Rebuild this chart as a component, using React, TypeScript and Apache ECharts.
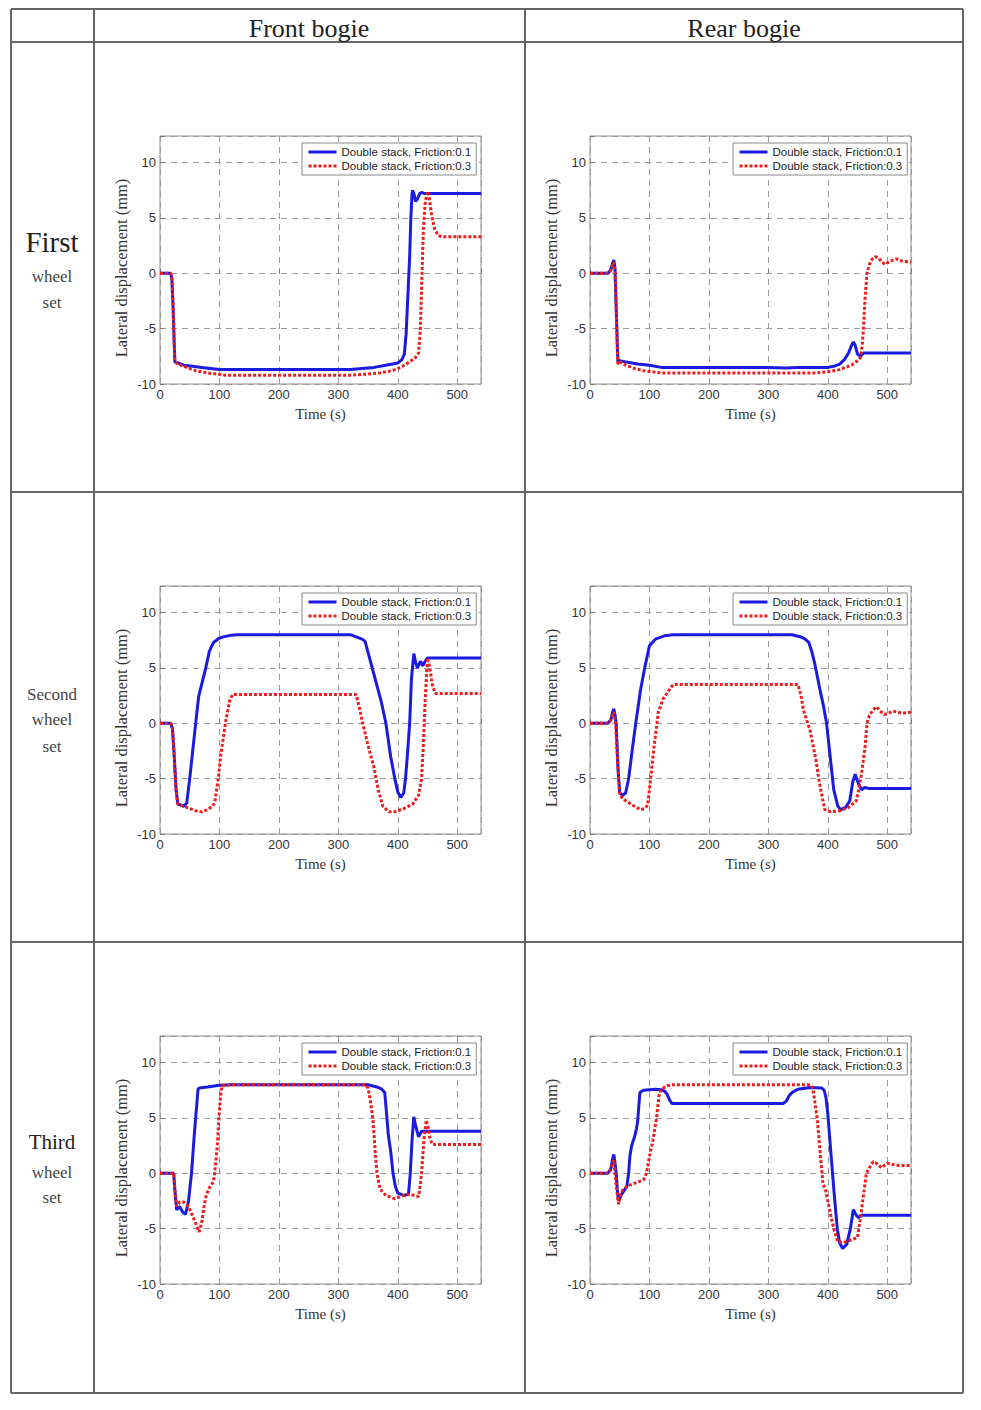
import React, { useEffect, useRef } from "react";
import * as echarts from "echarts";

const NAME_A = "Double stack, Friction:0.1";
const NAME_B = "Double stack, Friction:0.3";
const colHeaders = ["Front bogie", "Rear bogie"];
const xTickLabels = [0, 100, 200, 300, 400, 500];
const yTickLabels = [-10, -5, 0, 5, 10];

// First wheel set, front bogie
const firstFrontA = [[0,0],[18,0],[20,-0.5],[22,-3],[24,-6.5],[25,-8],[30,-8.1],[40,-8.3],[55,-8.4],[70,-8.5],[100,-8.7],[150,-8.7],[200,-8.7],[250,-8.7],[320,-8.7],[340,-8.6],[360,-8.5],[380,-8.3],[400,-8.1],[407,-7.8],[411,-7.3],[414,-5.5],[417,-2],[420,1.5],[422,5],[424,7.2],[425,7.5],[427,7.2],[430,6.5],[433,6.7],[437,7.2],[440,7.3],[445,7.2],[540,7.2]];
const firstFrontB = [[0,0],[18,0],[20,-0.5],[22,-3],[24,-6.5],[25,-8],[30,-8.2],[40,-8.4],[60,-8.8],[80,-9.0],[110,-9.2],[200,-9.2],[320,-9.2],[350,-9.1],[370,-9.0],[390,-8.8],[405,-8.5],[420,-8.0],[430,-7.6],[435,-7.2],[438,-5],[440,-1.5],[443,3.9],[446,6.3],[450,7.4],[453,6.8],[457,5.2],[462,4.0],[468,3.4],[475,3.3],[540,3.3]];
// First wheel set, rear bogie
const firstRearA = [[0,0],[30,0],[35,0.3],[38,0.9],[40,1.2],[42,0.5],[44,-3],[46,-6.5],[47,-8],[50,-7.9],[60,-8.0],[80,-8.2],[100,-8.3],[120,-8.5],[200,-8.5],[300,-8.5],[330,-8.55],[350,-8.5],[400,-8.5],[410,-8.4],[420,-8.2],[428,-7.8],[435,-7.2],[440,-6.5],[443,-6.2],[446,-6.5],[450,-7.3],[455,-7.5],[460,-7.2],[540,-7.2]];
const firstRearB = [[0,0],[30,0],[35,0.3],[38,0.8],[40,1.0],[42,0.3],[44,-3],[46,-7],[47,-8.2],[50,-8.0],[60,-8.3],[75,-8.6],[90,-8.8],[120,-9.0],[200,-9.0],[300,-9.0],[380,-9.0],[400,-8.9],[420,-8.7],[440,-8.3],[450,-7.9],[455,-7.6],[458,-6.5],[460,-5],[463,-2],[466,0],[470,0.8],[475,1.3],[480,1.5],[485,1.4],[490,1.1],[496,0.8],[505,1.1],[515,1.3],[525,1.1],[540,1.0]];
// Second wheel set, front bogie
const secondFrontA = [[0,0],[18,0],[21,-0.5],[24,-3],[27,-6],[30,-7.3],[35,-7.4],[40,-7.5],[45,-7.2],[50,-5],[56,-2],[60,0],[65,2.4],[70,3.5],[77,5],[83,6.5],[90,7.3],[100,7.7],[110,7.85],[120,7.95],[130,8.0],[320,8.0],[330,7.8],[340,7.6],[345,7.4],[352,6],[362,4],[372,2],[380,0],[388,-3],[395,-5],[400,-6.2],[405,-6.7],[410,-6.3],[413,-5],[416,-3],[420,0],[423,4],[427,6.3],[430,5.5],[433,5.0],[438,5.6],[442,5.2],[446,5.6],[450,5.9],[540,5.9]];
const secondFrontB = [[0,0],[18,0],[21,-0.5],[24,-3],[27,-6],[30,-7.3],[45,-7.6],[60,-7.9],[70,-8.0],[80,-7.8],[88,-7.5],[92,-7.2],[98,-5],[102,-3],[106,-1.5],[110,0],[117,2.0],[122,2.6],[200,2.6],[330,2.6],[335,1.5],[341,0],[350,-2],[360,-4],[367,-6],[375,-7.5],[385,-8.0],[395,-8.0],[410,-7.7],[425,-7.3],[435,-6.5],[440,-5],[443,-2],[446,2],[450,5.9],[454,5.0],[458,3.5],[463,2.7],[540,2.7]];
// Second wheel set, rear bogie
const secondRearA = [[0,0],[30,0],[35,0.3],[38,1.0],[40,1.3],[42,0.8],[44,0],[47,-4],[50,-6.3],[55,-6.5],[60,-6.3],[65,-5],[72,-2],[77,0],[85,3],[92,5],[100,7.0],[110,7.6],[125,7.9],[140,8.0],[340,8.0],[355,7.8],[362,7.6],[368,7.3],[373,6.5],[378,5.4],[387,3],[393,1.5],[398,0],[404,-3],[410,-6],[417,-7.5],[422,-7.8],[430,-7.6],[437,-7],[442,-5.3],[446,-4.6],[452,-5.5],[457,-6],[462,-5.8],[470,-5.9],[540,-5.9]];
const secondRearB = [[0,0],[30,0],[35,0.3],[38,0.8],[40,1.0],[43,0],[46,-3],[50,-6.5],[60,-7.0],[75,-7.5],[85,-7.8],[92,-7.7],[97,-7.4],[102,-5],[108,-2],[115,1],[123,2.2],[133,3.0],[140,3.5],[200,3.5],[350,3.5],[355,2.5],[359,1.2],[370,-0.6],[379,-3],[387,-5.7],[395,-7.8],[405,-8.0],[420,-7.9],[435,-7.6],[448,-7.0],[452,-6],[457,-4.5],[463,-2],[466,0],[470,0.7],[476,1.2],[482,1.5],[488,1.1],[495,0.8],[502,0.9],[510,1.1],[518,1.0],[525,0.9],[540,1.0]];
// Third wheel set, front bogie
const thirdFrontA = [[0,0],[23,0],[25,-1.5],[28,-3.3],[33,-3.0],[38,-3.5],[43,-3.7],[48,-2.5],[53,0],[57,3],[60,5],[64,7.6],[66,7.7],[80,7.8],[100,7.95],[120,8.0],[350,8.0],[365,7.8],[373,7.6],[378,7.3],[381,5.5],[384,3.5],[388,2.0],[392,0],[396,-1.2],[400,-1.8],[410,-2.0],[418,-1.9],[421,0],[424,3],[427,5.1],[430,4.3],[435,3.3],[440,3.8],[540,3.8]];
const thirdFrontB = [[0,0],[23,0],[25,-1.5],[28,-3.0],[33,-2.6],[40,-2.6],[48,-3.0],[56,-4],[62,-4.8],[66,-5.3],[70,-4.5],[74,-3],[78,-1.95],[84,-1.2],[90,-0.75],[94,1],[97,3],[99,5],[102,7],[104,7.9],[120,8.0],[345,8.0],[350,7.7],[354,6.5],[358,5],[362,2],[365,0],[370,-1.4],[380,-2.0],[395,-2.3],[410,-2.0],[420,-1.9],[435,-2.1],[438,-1],[440,0],[444,3],[448,4.8],[451,4.2],[454,3.2],[458,2.6],[540,2.6]];
// Third wheel set, rear bogie
const thirdRearA = [[0,0],[30,0],[35,0.4],[38,1.3],[40,1.7],[42,1],[44,0],[46,-1.5],[48,-2.5],[52,-2.0],[58,-1.5],[62,-1.2],[65,0],[67,1.5],[70,2.5],[75,3.3],[78,4],[80,4.6],[82,6],[84,7.3],[90,7.5],[100,7.55],[110,7.6],[120,7.55],[126,7.4],[130,7.1],[134,6.6],[138,6.3],[200,6.3],[325,6.3],[330,6.5],[335,7.0],[340,7.3],[350,7.6],[370,7.75],[390,7.7],[394,7.5],[397,6.8],[400,5.4],[405,2],[411,-2],[416,-5],[420,-6.3],[425,-6.8],[432,-6.4],[438,-5],[443,-3.3],[448,-3.8],[452,-4.0],[456,-3.8],[540,-3.8]];
const thirdRearB = [[0,0],[30,0],[35,0.3],[38,0.9],[40,1.2],[43,-0.5],[46,-2],[48,-2.8],[51,-2.0],[55,-1.5],[65,-1.1],[80,-0.8],[90,-0.6],[95,0],[100,1.5],[106,3],[112,5],[116,7],[120,7.6],[130,7.9],[140,8.0],[370,8.0],[375,7.7],[382,5],[387,2],[392,-1.0],[396,-1.4],[400,-2.5],[405,-3.8],[410,-5],[417,-6.2],[430,-6.2],[440,-6.0],[450,-5.8],[455,-4],[460,-2],[465,0],[470,0.5],[476,1.05],[482,0.9],[490,0.5],[500,0.9],[510,0.8],[520,0.7],[540,0.7]];

const panels = [
  [firstFrontA, firstFrontB],
  [firstRearA, firstRearB],
  [secondFrontA, secondFrontB],
  [secondRearA, secondRearB],
  [thirdFrontA, thirdFrontB],
  [thirdRearA, thirdRearB],
];

const BLUE = "#1a1ae0";
const RED = "#ee1c1c";
const SERIF = "'Liberation Serif', 'Times New Roman', serif";
const SANS = "'Liberation Sans', Arial, sans-serif";

export default function App() {
  const ref = useRef<HTMLDivElement>(null);
  useEffect(() => {
    if (!ref.current) return;
    const chart = echarts.init(ref.current, null, { renderer: "svg" });
    const colLeft = [160, 590];
    const rowTop = [136, 586, 1036];
    const grids: any[] = [];
    const xAxes: any[] = [];
    const yAxes: any[] = [];
    const series: any[] = [];
    const legends: any[] = [];
    panels.forEach((pair, i) => {
      const r = Math.floor(i / 2);
      const c = i % 2;
      grids.push({
        left: colLeft[c], top: rowTop[r], width: 321, height: 248,
        show: true, borderColor: "#8a8a8a", borderWidth: 1, backgroundColor: "#fff",
      });
      xAxes.push({
        type: "value", gridIndex: i, min: 0, max: 540, interval: 100,
        name: "Time (s)", nameLocation: "middle", nameGap: 22,
        nameTextStyle: { fontFamily: SERIF, fontSize: 15, color: "#333" },
        axisLine: { show: false },
        axisTick: { show: true, inside: true, length: 4, lineStyle: { color: "#777" } },
        axisLabel: {
          margin: 4, fontFamily: SANS, fontSize: 13, color: "#333",
          formatter: (v: number) => (xTickLabels.includes(v) ? String(v) : ""),
        },
        splitLine: { show: true, lineStyle: { color: "#9a9a9a", type: [6, 5], width: 1 } },
      });
      yAxes.push({
        type: "value", gridIndex: i, min: -10, max: 12.4, interval: 5,
        name: "Lateral displacement (mm)", nameLocation: "middle", nameGap: 30,
        nameTextStyle: { fontFamily: SERIF, fontSize: 16.5, color: "#333", padding: [0, 16, 0, 0] },
        axisLine: { show: false },
        axisTick: { show: true, inside: true, length: 4, lineStyle: { color: "#777" } },
        axisLabel: {
          margin: 4, fontFamily: SANS, fontSize: 13, color: "#333",
          formatter: (v: number) => (yTickLabels.includes(v) ? String(v) : ""),
        },
        splitLine: { show: true, lineStyle: { color: "#9a9a9a", type: [6, 5], width: 1 } },
      });
      series.push({
        type: "line", name: NAME_A, xAxisIndex: i, yAxisIndex: i, data: pair[0],
        showSymbol: false, symbol: "none", lineStyle: { color: BLUE, width: 3 }, itemStyle: { color: BLUE },
        z: 3,
      });
      series.push({
        type: "line", name: NAME_B, xAxisIndex: i, yAxisIndex: i, data: pair[1],
        showSymbol: false, symbol: "none", lineStyle: { color: RED, width: 3, type: [3, 2] }, itemStyle: { color: RED },
        z: 4,
      });
      legends.push({
        data: [NAME_A, NAME_B], orient: "vertical", left: 302 + c * 431, top: 143 + r * 450,
        itemWidth: 28, itemHeight: 12, itemGap: 2, padding: [3, 5, 3, 5],
        borderColor: "#888", borderWidth: 1, backgroundColor: "#fff", borderRadius: 0,
        selectedMode: false,
        itemStyle: { opacity: 0 },
        lineStyle: { width: 3 },
        textStyle: { fontFamily: SANS, fontSize: 11.5, color: "#222" },
      });
    });

    const lineStyle = { stroke: "#666", lineWidth: 2 };
    const hLines = [9, 42, 492, 942, 1393];
    const vLines = [11, 94, 525, 963];
    const graphics: any[] = [];
    hLines.forEach((y) =>
      graphics.push({ type: "line", shape: { x1: 11, y1: y, x2: 963, y2: y }, style: lineStyle, silent: true })
    );
    vLines.forEach((x) =>
      graphics.push({ type: "line", shape: { x1: x, y1: 9, x2: x, y2: 1393 }, style: lineStyle, silent: true })
    );
    const txt = (text: string, x: number, y: number, size: number, color: string) => ({
      type: "text", x, y, silent: true,
      style: { text, fontFamily: SERIF, fontSize: size, fill: color, textAlign: "center", textVerticalAlign: "middle" },
    });
    graphics.push(txt(colHeaders[0], 309, 28, 26, "#222"));
    graphics.push(txt(colHeaders[1], 744, 28, 26, "#222"));
    graphics.push(txt("First", 52, 242, 29, "#222"));
    graphics.push(txt("wheel", 52, 276, 17, "#444"));
    graphics.push(txt("set", 52, 302, 17, "#444"));
    graphics.push(txt("Second", 52, 694, 17, "#444"));
    graphics.push(txt("wheel", 52, 719, 17, "#444"));
    graphics.push(txt("set", 52, 746, 17, "#444"));
    graphics.push(txt("Third", 52, 1142, 21, "#222"));
    graphics.push(txt("wheel", 52, 1172, 17, "#444"));
    graphics.push(txt("set", 52, 1197, 17, "#444"));

    chart.setOption({
      animation: false,
      backgroundColor: "#fff",
      grid: grids,
      xAxis: xAxes,
      yAxis: yAxes,
      legend: legends,
      series,
      graphic: graphics,
    });
    return () => chart.dispose();
  }, []);
  return (
    <div
      ref={ref}
      style={{ position: "absolute", left: 0, top: 0, width: 981, height: 1410 }}
    />
  );
}
